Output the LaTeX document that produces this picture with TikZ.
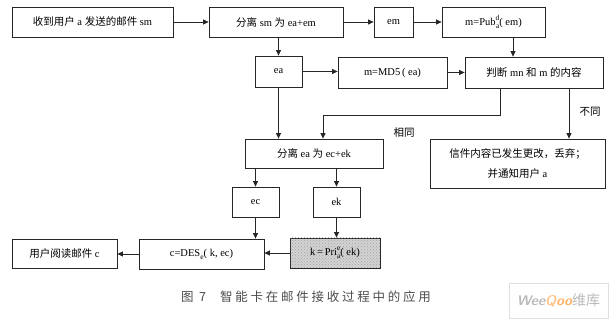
\documentclass[tikz,border=0pt]{standalone}
\usepackage{fontspec}
\setmainfont{Liberation Serif}
\newfontfamily\cjk{Noto Sans CJK SC}
\newfontfamily\cjkcap[LetterSpace=22]{Noto Sans CJK SC}
\usetikzlibrary{arrows.meta,patterns}
\newcommand\zh[1]{{\cjk #1}}
\newcommand\supsub[2]{{\fontsize{7.5}{8}\selectfont\raisebox{4.5pt}{#1}\llap{\raisebox{-3pt}{#2}}}}
\begin{document}
\begin{tikzpicture}[x=1pt,y=-1pt,
  box/.style={draw=black!85,line width=0.8pt,inner sep=1pt,font=\fontsize{10.5}{13}\selectfont,align=center},
  arr/.style={draw=black!85,line width=0.8pt,-{Triangle[length=5.5pt,width=5pt]}},
  lab/.style={font=\fontsize{10.5}{12}\selectfont\cjk,inner sep=0pt}]
\useasboundingbox (0,0) rectangle (616,323);
% row 1
\node[box,minimum width=161pt,minimum height=30pt] (b1) at (92.5,22) {\zh{收到用户} a \zh{发送的邮件} sm};
\node[box,minimum width=134pt,minimum height=30pt] (b2) at (276,22) {\zh{分离} sm \zh{为} ea+em};
\node[box,minimum width=39pt,minimum height=30pt] (em) at (393.5,22) {em};
\node[box,minimum width=103pt,minimum height=30pt] (pub) at (493.5,22) {m=Pub\supsub{d}{a}( em)};
% row 2
\node[box,minimum width=47pt,minimum height=31pt] (ea) at (278.5,71.5) {ea};
\node[box,minimum width=109pt,minimum height=31pt] (md5) at (392.5,72.5) {m=MD5\,( ea)};
\node[box,minimum width=138pt,minimum height=31pt] (judge) at (534,72.5) {\zh{判断} mn \zh{和} m \zh{的内容}};
% row 3
\node[box,minimum width=138pt,minimum height=29pt] (split) at (314,153.5) {\zh{分离} ea \zh{为} ec+ek};
\node[box,minimum width=175pt,minimum height=49pt,font=\fontsize{10.5}{20}\selectfont] (msg) at (517.5,163.5) {\zh{信件内容已发生更改，丢弃；}\\\zh{并通知用户} a};
% row 4
\node[box,minimum width=47pt,minimum height=30pt] (ec) at (255.5,202) {ec};
\node[box,minimum width=47pt,minimum height=30pt] (ek) at (336.5,202) {ek};
% row 5
\node[box,minimum width=105pt,minimum height=29pt] (read) at (64.5,253.5) {\zh{用户阅读邮件} c};
\node[box,minimum width=125pt,minimum height=30pt] (des) at (201.5,254) {c=DES{\fontsize{7.5}{8}\selectfont\raisebox{-3pt}{e}}( k, ec)};
\node[box,minimum width=90pt,minimum height=30pt,fill=gray!35,
  postaction={pattern=crosshatch dots,pattern color=gray!70}] (pri) at (335,253) {};
\node[font=\fontsize{10.5}{13}\selectfont,inner sep=1pt] (pritext) at (pri.center) {k\,=\,Pri\supsub{e}{a}( ek)};
% labels
\node[lab] (same) at (404,133) {相同};
\node[lab] (diff) at (590,112) {不同};
% connectors
\draw[arr] (b1) -- (b2);
\draw[arr] (b2) -- (em);
\draw[arr] (em) -- (pub);
\draw[arr] (b2.south -| ea.north) -- (ea.north);
\draw[arr] ([xshift=19.5pt]pub.south) -- ([xshift=19.5pt]pub.south |- judge.north);
\draw[arr] (ea.east) -- (ea.east -| md5.west);
\draw[arr] (md5.east) -- (md5.east -| judge.west);
\draw[arr] (ea.south) -- (ea.south |- split.north);
\coordinate (jl) at ([xshift=-34pt]judge.south);
\coordinate (sl) at ([xshift=9pt]split.north);
\draw[arr] (jl) -- ++(0,27) -| (sl);
\draw[arr] ([xshift=35pt]judge.south) -- ([xshift=35pt]judge.south |- msg.north);
\draw[arr] (split.south -| ec.north) -- (ec.north);
\draw[arr] (split.south -| ek.north) -- (ek.north);
\draw[arr] (ec.south) -- (ec.south |- des.north);
\draw[arr] (ek.south) -- (ek.south |- pri.north);
\draw[arr] (pri.west) -- (pri.west -| des.east);
\draw[arr] (des.west) -- (des.west -| read.east);
% caption
\node[font=\fontsize{12.5}{14}\selectfont\cjkcap,text=black!70,inner sep=0pt] (cap) at (306,297) {图 7\hspace{14pt}智能卡在邮件接收过程中的应用};
% watermark
\node[draw=gray!25,line width=0.6pt,minimum width=99pt,minimum height=35pt,inner sep=0pt,
  font=\fontsize{14}{16}\selectfont] (wm) at (558.5,300.5)
  {{\sffamily\itshape\bfseries\color{gray!55}Wee{\color{orange!45}Q}{\color{orange!60}oo}}{\cjk\color{gray!55}维库}};
\end{tikzpicture}
\end{document}
